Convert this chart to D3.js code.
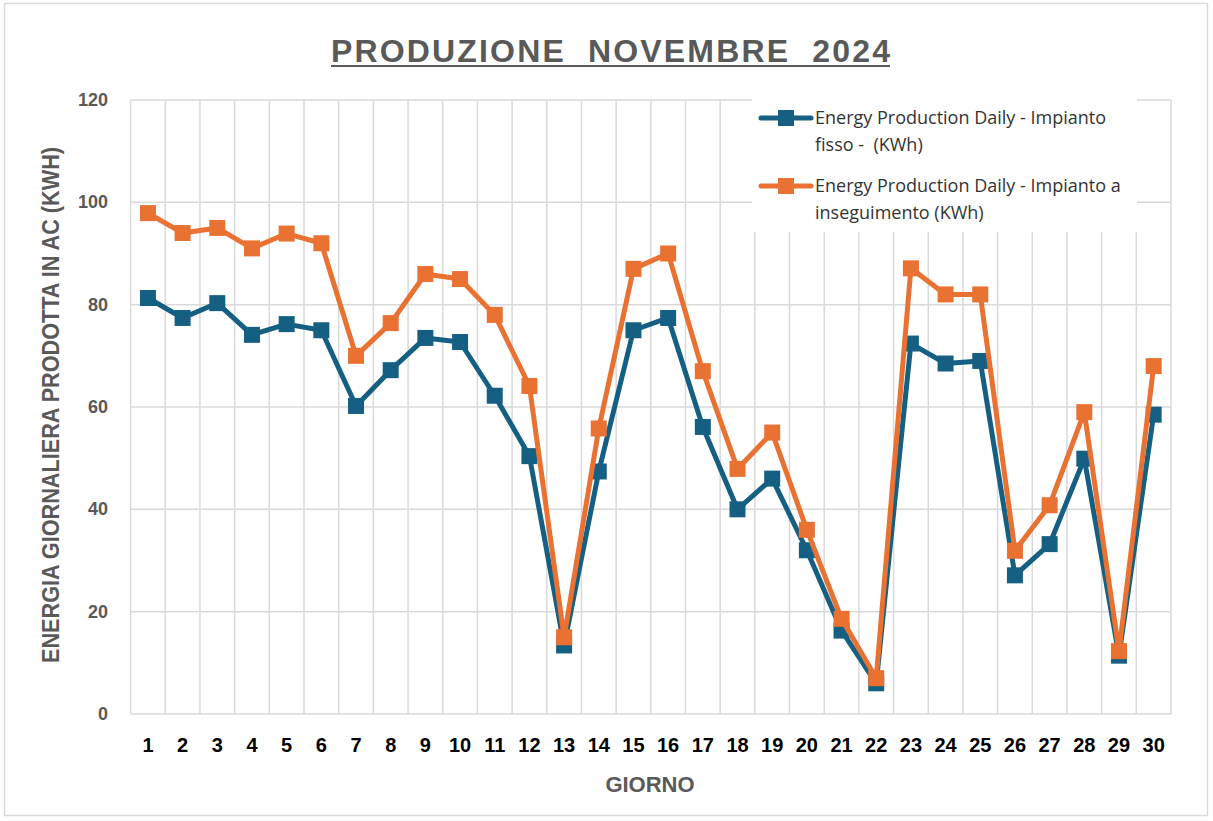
<!DOCTYPE html>
<html>
<head>
<meta charset="utf-8">
<script src="https://cdn.jsdelivr.net/npm/d3@7"></script>
<style>
  body { margin: 0; background: #fff; }
  svg { display: block; }
</style>
</head>
<body>
<svg id="chart" width="1213" height="821"></svg>
<script>
const days = d3.range(1, 31).map(String);
const fisso = [81.3, 77.4, 80.3, 74.1, 76.2, 75.0, 60.2, 67.2, 73.5, 72.7,
	62.2, 50.4, 13.4, 47.4, 75.0, 77.4, 56.1, 40.0, 46.0, 32.0,
	16.3, 6.0, 72.4, 68.5, 69.0, 27.1, 33.2, 49.9, 11.4, 58.5];
const inseguimento = [97.9, 94.0, 95.0, 91.0, 93.9, 92.0, 70.0, 76.4, 86.0, 85.0,
	78.0, 64.1, 15.0, 55.8, 87.0, 90.0, 67.0, 47.9, 55.0, 36.0,
	18.6, 7.0, 87.1, 82.0, 82.0, 31.9, 40.8, 59.0, 12.3, 68.0];
const yTicks = [0, 20, 40, 60, 80, 100, 120];
const seriesNames = [
	["Energy Production Daily - Impianto", "fisso -  (KWh)"],
	["Energy Production Daily - Impianto a", "inseguimento (KWh)"],
];
const colors = ["#156082", "#E97132"];

const svg = d3.select("#chart");
const W = +svg.attr("width"), H = +svg.attr("height");
const pLeft = 130.6, pRight = 1171, pTop = 100, pBottom = 714;
const grid = "#d9d9d9", textGrey = "#595959";
const font = "'Liberation Sans', Arial, sans-serif";

// chart border
svg.append("rect")
	.attr("x", 4.5).attr("y", 3.5)
	.attr("width", W - 10).attr("height", H - 9)
	.attr("fill", "#fff").attr("stroke", grid).attr("stroke-width", 1.5);

const x = d3.scaleBand().domain(days).range([pLeft, pRight]);
const y = d3.scaleLinear().domain([0, 120]).range([pBottom, pTop]);
const cx = (d) => x(d) + x.bandwidth() / 2;

// grid
const g = svg.append("g");
g.selectAll(".hg")
	.data(yTicks)
	.join("line")
	.attr("x1", pLeft).attr("x2", pRight)
	.attr("y1", (d) => y(d)).attr("y2", (d) => y(d))
	.attr("stroke", grid).attr("stroke-width", 1.5);
g.selectAll(".vg")
	.data(days.concat(["end"]))
	.join("line")
	.attr("x1", (d) => (d === "end" ? pRight : x(d)))
	.attr("x2", (d) => (d === "end" ? pRight : x(d)))
	.attr("y1", pTop).attr("y2", pBottom)
	.attr("stroke", grid).attr("stroke-width", 1.5);

// y tick labels
svg.append("g")
	.selectAll("text")
	.data(yTicks)
	.join("text")
	.attr("x", 108)
	.attr("y", (d) => y(d) + 6)
	.attr("text-anchor", "end")
	.style("font-family", font)
	.style("font-weight", "bold")
	.style("font-size", "18px")
	.attr("fill", textGrey)
	.text((d) => d);

// x tick labels
svg.append("g")
	.selectAll("text")
	.data(days)
	.join("text")
	.attr("x", cx)
	.attr("y", 752)
	.attr("text-anchor", "middle")
	.style("font-family", font)
	.style("font-weight", "bold")
	.style("font-size", "20px")
	.attr("fill", "#000")
	.text((d) => d);

// axis titles
svg.append("text")
	.attr("x", 650)
	.attr("y", 792)
	.attr("text-anchor", "middle")
	.style("font-family", font)
	.style("font-weight", "bold")
	.style("font-size", "22px")
	.attr("fill", textGrey)
	.text("GIORNO");

svg.append("text")
	.attr("transform", "translate(59,663) rotate(-90)")
	.attr("textLength", 516)
	.attr("lengthAdjust", "spacingAndGlyphs")
	.style("font-family", font)
	.style("font-weight", "bold")
	.style("font-size", "23px")
	.attr("fill", textGrey)
	.text("ENERGIA GIORNALIERA PRODOTTA IN AC (KWH)");

// title
svg.append("text")
	.attr("x", 331)
	.attr("y", 62)
	.attr("textLength", 559)
	.attr("lengthAdjust", "spacing")
	.style("font-family", font)
	.style("font-weight", "bold")
	.style("font-size", "32px")
	.style("white-space", "pre")
	.attr("fill", textGrey)
	.text("PRODUZIONE  NOVEMBRE  2024");
svg.append("line")
	.attr("x1", 331).attr("x2", 890)
	.attr("y1", 66).attr("y2", 66)
	.attr("stroke", textGrey).attr("stroke-width", 2);

// series
const line = d3.line().x((d) => cx(d.day)).y((d) => y(d.v));
[fisso, inseguimento].forEach((vals, i) => {
	const pts = vals.map((v, j) => ({ day: days[j], v }));
	svg.append("path")
		.datum(pts)
		.attr("d", line)
		.attr("fill", "none")
		.attr("stroke", colors[i])
		.attr("stroke-width", 5)
		.attr("stroke-linejoin", "round");
	svg.append("g")
		.selectAll("rect")
		.data(pts)
		.join("rect")
		.attr("x", (d) => cx(d.day) - 8)
		.attr("y", (d) => y(d.v) - 8)
		.attr("width", 16).attr("height", 16)
		.attr("fill", colors[i]);
});

// legend
const lg = svg.append("g");
lg.append("rect")
	.attr("x", 752).attr("y", 94)
	.attr("width", 385).attr("height", 138)
	.attr("fill", "#fff");
seriesNames.forEach((lines, i) => {
	const ly = 118 + i * 68;
	lg.append("line")
		.attr("x1", 761).attr("x2", 811)
		.attr("y1", ly).attr("y2", ly)
		.attr("stroke", colors[i]).attr("stroke-width", 5)
		.attr("stroke-linecap", "round");
	lg.append("rect")
		.attr("x", 778).attr("y", ly - 8)
		.attr("width", 16).attr("height", 16)
		.attr("fill", colors[i]);
	lines.forEach((t, k) => {
		lg.append("text")
			.attr("x", 815)
			.attr("y", ly + 6 + k * 27)
			.style("font-family", "'Open Sans'")
			.style("font-size", "18px")
			.style("white-space", "pre")
			.attr("fill", "#333")
			.text(t);
	});
});
</script>
</body>
</html>
